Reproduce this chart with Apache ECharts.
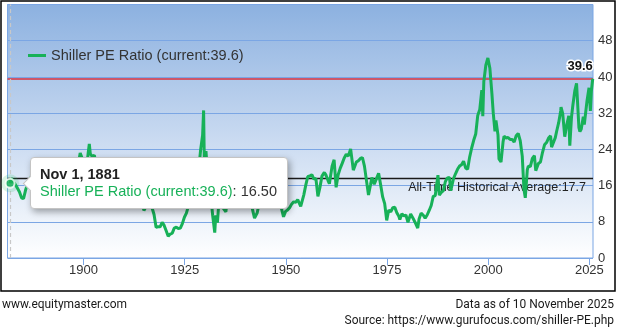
<!DOCTYPE html>
<html>
<head>
<meta charset="utf-8">
<script src="https://cdn.jsdelivr.net/npm/echarts@6/dist/echarts.min.js"></script>
<style>
  html, body { margin: 0; padding: 0; background: #fff; }
  #chart { width: 617px; height: 331px; }
</style>
</head>
<body>
<div id="chart"></div>
<script>
// Shiller PE (CAPE) ratio, S&P 500, sampled dates and readings
const dates = [
  '1881-11','1882-03','1882-09','1883-03','1883-09','1884-03','1884-09','1885-03','1885-09','1886-03',
  '1886-09','1887-03','1887-09','1888-03','1888-09','1889-03','1889-09','1890-03','1890-09','1891-03',
  '1891-09','1892-03','1892-09','1893-03','1893-09','1894-03','1894-09','1895-03','1895-09','1896-03',
  '1896-09','1897-03','1897-09','1898-03','1898-09','1899-03','1899-09','1900-03','1900-09','1901-03',
  '1901-06','1901-09','1902-03','1902-09','1903-03','1903-09','1904-03','1904-09','1905-03','1905-09',
  '1906-03','1906-09','1907-03','1907-11','1908-03','1908-09','1909-03','1909-09','1910-03','1910-09',
  '1911-03','1911-09','1912-03','1912-09','1913-03','1913-09','1914-03','1914-12','1915-06','1915-12',
  '1916-06','1916-12','1917-06','1917-12','1918-06','1918-12','1919-06','1919-12','1920-06','1920-12',
  '1921-06','1921-12','1922-06','1922-12','1923-06','1923-12','1924-06','1924-12','1925-06','1925-12',
  '1926-06','1926-12','1927-06','1927-12','1928-06','1928-12','1929-06','1929-09','1929-11','1930-04',
  '1930-12','1931-04','1931-12','1932-06','1932-09','1933-02','1933-07','1934-01','1934-07','1935-03',
  '1935-10','1936-04','1936-10','1937-02','1937-08','1938-03','1938-10','1939-04','1939-09','1940-05',
  '1940-12','1941-06','1942-04','1942-12','1943-06','1943-12','1944-06','1944-12','1945-06','1945-12',
  '1946-05','1946-11','1947-06','1947-12','1948-06','1948-12','1949-06','1949-12','1950-06','1950-12',
  '1951-06','1951-12','1952-06','1952-12','1953-09','1954-06','1954-12','1955-06','1955-12','1956-06',
  '1956-12','1957-06','1957-12','1958-06','1958-12','1959-07','1959-12','1960-06','1960-10','1961-06',
  '1961-12','1962-06','1962-12','1963-06','1963-12','1964-06','1964-12','1965-06','1966-01','1966-09',
  '1967-06','1967-12','1968-06','1968-12','1969-06','1969-12','1970-06','1970-12','1971-04','1971-11',
  '1972-06','1972-12','1973-06','1973-12','1974-06','1974-12','1975-06','1975-12','1976-06','1976-12',
  '1977-06','1977-12','1978-03','1978-09','1979-03','1979-09','1980-03','1980-11','1981-06','1981-12',
  '1982-08','1982-12','1983-06','1983-12','1984-06','1984-12','1985-06','1985-12','1986-06','1986-12',
  '1987-08','1987-12','1988-06','1988-12','1989-06','1989-12','1990-06','1990-10','1991-06','1991-12',
  '1992-06','1992-12','1993-06','1993-12','1994-06','1994-12','1995-06','1995-12','1996-06','1996-12',
  '1997-06','1997-12','1998-06','1998-09','1998-12','1999-06','1999-12','2000-06','2000-12','2001-04',
  '2001-09','2001-12','2002-06','2002-09','2003-03','2003-09','2003-12','2004-06','2004-12','2005-06',
  '2005-12','2006-06','2006-12','2007-06','2007-12','2008-06','2008-11','2009-03','2009-09','2009-12',
  '2010-06','2010-12','2011-06','2011-10','2012-06','2012-12','2013-06','2013-12','2014-06','2014-12',
  '2015-06','2015-09','2016-02','2016-08','2016-12','2017-06','2017-12','2018-01','2018-06','2018-12',
  '2019-06','2019-12','2020-03','2020-08','2020-12','2021-06','2021-11','2022-06','2022-09','2023-01',
  '2023-07','2023-10','2024-06','2024-12','2025-04','2025-07','2025-11'
];
const values = [
  16.5,17.6,16.8,16.2,15.4,14.6,13.3,13.1,15.0,16.3,
  17.3,18.2,16.8,16.2,16.9,17.4,18.3,18.4,16.5,15.9,
  17.8,19.4,19.0,18.0,14.9,16.0,16.5,16.4,18.0,17.2,
  15.3,16.6,19.6,18.5,20.6,23.2,22.0,20.1,19.3,23.4,
  25.2,23.0,22.4,22.7,20.3,15.8,15.2,17.6,20.3,20.5,
  20.5,19.6,17.0,12.1,13.4,15.6,16.8,17.5,16.0,14.0,
  15.1,14.0,14.6,15.2,13.6,13.0,13.1,10.5,11.3,12.5,
  11.3,11.1,9.6,6.8,6.9,6.9,7.9,7.2,6.0,4.8,
  5.3,5.5,6.6,6.8,6.5,6.6,7.6,9.0,9.9,11.5,
  11.3,12.4,14.2,16.3,19.0,23.8,27.1,32.6,21.6,23.6,
  15.0,15.5,9.3,5.6,9.4,7.8,13.3,12.4,11.0,10.2,
  14.9,17.1,19.4,22.0,19.0,11.1,15.4,13.0,15.6,13.4,
  14.1,12.0,8.8,10.0,12.2,11.8,12.8,13.3,15.0,17.6,
  19.8,14.8,13.1,12.5,12.6,10.9,9.1,10.3,10.6,11.1,
  11.9,12.4,12.3,12.9,11.4,13.9,16.1,18.0,18.1,18.4,
  17.4,17.6,13.6,15.6,18.1,18.9,18.3,17.1,16.4,20.3,
  21.7,15.6,18.4,19.8,20.9,22.1,22.9,22.5,24.1,19.4,
  21.2,21.5,22.0,22.2,20.3,17.1,13.9,16.2,17.8,16.3,
  17.6,18.7,16.2,13.5,12.0,8.3,10.6,10.2,11.1,11.2,
  10.0,9.2,8.5,9.8,9.3,9.5,7.9,9.7,8.8,7.9,
  6.6,8.6,9.9,9.5,8.8,9.5,10.5,11.6,13.6,13.8,
  18.3,13.9,14.5,14.9,16.9,17.7,17.8,14.9,17.5,18.6,
  19.6,20.3,20.6,21.4,19.9,19.6,22.3,24.3,26.0,27.4,
  31.5,32.8,37.1,31.3,39.0,42.6,44.2,41.9,36.3,32.0,
  28.0,30.4,27.2,21.9,21.2,25.6,26.9,26.5,26.6,26.2,
  26.2,25.6,27.0,27.5,25.9,22.5,15.2,13.3,19.5,20.3,
  20.2,22.0,22.6,19.3,20.9,21.2,23.3,25.0,25.5,26.5,
  27.0,24.5,24.2,26.6,28.0,29.9,32.5,33.3,31.9,26.8,
  29.4,31.4,24.8,31.1,33.7,37.0,38.6,28.8,27.9,28.5,
  31.2,29.5,34.7,37.6,32.5,36.9,39.6
];
const yTicks = [0, 8, 16, 24, 32, 40, 48];
const yearTicks = [1900, 1925, 1950, 1975, 2000, 2025];
const historicalAverage = 17.7;
const seriesName = 'Shiller PE Ratio (current:39.6)';
const monthNames = ['Jan','Feb','Mar','Apr','May','Jun','Jul','Aug','Sep','Oct','Nov','Dec'];

const GREEN = '#17b158';
const FONT = '"Liberation Sans", Arial, sans-serif';
const FOOT_FONT = '13px Roboto, sans-serif';

function toYear(d) {
  const [y, m] = d.split('-').map(Number);
  return y + (m - 1) / 12;
}
function longDate(d) {
  const [y, m] = d.split('-').map(Number);
  return monthNames[m - 1] + ' 1, ' + y;
}

const points = dates.map((d, i) => [toYear(d), values[i]]);
const last = points[points.length - 1];
const first = points[0];

// small left-pointing notch for the tooltip box
const arrowHtml =
  '<div style="position:absolute;left:-6px;top:50%;width:10px;height:10px;margin-top:-5px;' +
  'background:#fff;border-left:1px solid #c4c4c4;border-bottom:1px solid #c4c4c4;' +
  'transform:rotate(45deg);"></div>';

// footer line: a narrowed text inside a group anchored at (x, y)
function footText(x, y, text, align) {
  return {
    type: 'group', x: x, y: y, scaleX: 0.92, silent: true,
    children: [{
      type: 'text', x: 0, y: 0,
      style: { text: text, fill: '#1a1a1a', font: FOOT_FONT, textAlign: align, align: align, textVerticalAlign: 'top', verticalAlign: 'top' }
    }]
  };
}

const chart = echarts.init(document.getElementById('chart'), null, { renderer: 'canvas' });

chart.setOption({
  animation: false,
  backgroundColor: '#fff',
  textStyle: { fontFamily: FONT },
  grid: {
    left: 7.5, right: 24, top: 4.5, bottom: 73,
    show: true,
    borderColor: '#7ba6e4',
    borderWidth: 1,
    backgroundColor: {
      type: 'linear', x: 0, y: 0, x2: 0, y2: 1,
      colorStops: [
        { offset: 0, color: '#8cb1e0' },
        { offset: 0.5, color: '#c6d8f0' },
        { offset: 1, color: '#ffffff' }
      ]
    }
  },
  legend: {
    left: 23, top: 43,
    data: [seriesName],
    icon: 'rect',
    itemWidth: 18, itemHeight: 3,
    itemGap: 6,
    textStyle: { fontSize: 14.5, color: '#333', fontFamily: FONT }
  },
  tooltip: {
    trigger: 'item',
    triggerOn: 'none',
    alwaysShowContent: true,
    transitionDuration: 0,
    position: function (point, params, dom, rect, size) {
      const r = rect || { x: point[0], y: point[1], width: 0, height: 0 };
      return [r.x + r.width + 11, r.y + r.height / 2 - size.contentSize[1] / 2];
    },
    backgroundColor: '#fff',
    borderColor: '#c4c4c4',
    borderWidth: 1,
    padding: [8, 10, 8, 9],
    extraCssText: 'box-shadow: 2px 3px 7px rgba(0,0,0,0.35); border-radius: 4px;',
    textStyle: { fontFamily: FONT, fontSize: 14.5, color: '#333' },
    formatter: function (p) {
      const i = p.dataIndex;
      return arrowHtml +
        '<div style="position:relative;font-weight:bold;line-height:17px;color:#222">' + longDate(dates[i]) + '</div>' +
        '<div style="position:relative;line-height:17px"><span style="color:' + GREEN + '">' + seriesName + '</span>: ' +
        values[i].toFixed(2) + '</div>';
    }
  },
  xAxis: {
    type: 'value',
    min: 1881.2,
    max: 2025.9,
    axisLine: { show: false },
    splitLine: { show: false },
    axisTick: {
      show: true, length: 7, inside: false,
      customValues: yearTicks,
      lineStyle: { color: '#7ba6e4', width: 1 }
    },
    axisLabel: {
      customValues: yearTicks,
      margin: 6,
      color: '#333', fontSize: 13, fontFamily: FONT,
      formatter: v => String(Math.round(v))
    }
  },
  yAxis: {
    type: 'value',
    position: 'right',
    min: 0, max: 56, interval: 8,
    axisLine: { show: false },
    axisTick: { show: false },
    axisLabel: {
      margin: 5, color: '#333', fontSize: 13, fontFamily: FONT,
      showMaxLabel: false,
      formatter: v => (yTicks.indexOf(v) >= 0 ? String(v) : '')
    },
    splitLine: { show: true, lineStyle: { color: '#7ba6e4', width: 1.2 } }
  },
  series: [
    {
      name: seriesName,
      type: 'line',
      data: points,
      showSymbol: false,
      symbol: 'none',
      lineStyle: { color: GREEN, width: 3 },
      itemStyle: { color: GREEN },
      z: 3,
      markLine: {
        z: 1,
        silent: true,
        symbol: ['none', 'none'],
        data: [
          {
            yAxis: last[1],
            lineStyle: { color: '#d8323e', width: 1.6, type: 'solid' },
            label: { show: false }
          },
          {
            yAxis: historicalAverage,
            lineStyle: { color: '#1a1a1a', width: 1.3, type: 'solid' },
            label: {
              show: true,
              position: 'insideEndBottom',
              distance: [7, 3],
              formatter: 'All-Time Historical Average:' + historicalAverage,
              color: '#222', fontSize: 12.5, fontFamily: FONT
            }
          },
          {
            xAxis: first[0],
            lineStyle: { color: '#c8c8c8', width: 1.2, type: [4, 3] },
            label: { show: false }
          }
        ]
      },
      markPoint: {
        z: 6,
        silent: true,
        symbol: 'circle',
        symbolSize: 0,
        data: [{ coord: last, value: last[1] }],
        label: {
          show: true,
          position: 'top',
          align: 'right',
          distance: 6,
          formatter: String(last[1]),
          color: '#111', fontWeight: 'bold', fontSize: 13, fontFamily: FONT,
          textBorderColor: '#fff', textBorderWidth: 3
        }
      }
    },
    {
      name: 'halo',
      type: 'scatter',
      data: [first],
      symbolSize: 18,
      itemStyle: { color: 'rgba(40,190,100,0.22)' },
      z: 4
    },
    {
      name: 'point',
      type: 'scatter',
      data: [first],
      symbolSize: 9,
      silent: true,
      itemStyle: { color: GREEN, borderColor: '#fff', borderWidth: 2 },
      z: 5
    }
  ],
  graphic: [
    {
      type: 'rect',
      shape: { x: 1, y: 1, width: 614, height: 290 },
      style: { fill: null, stroke: '#000', lineWidth: 1.5 },
      silent: true
    },
    footText(2, 298, 'www.equitymaster.com', 'left'),
    footText(614, 298, 'Data as of 10 November 2025', 'right'),
    footText(614, 314, 'Source: https://www.gurufocus.com/shiller-PE.php', 'right')
  ]
});

chart.dispatchAction({ type: 'showTip', seriesIndex: 1, dataIndex: 0 });
</script>
</body>
</html>
